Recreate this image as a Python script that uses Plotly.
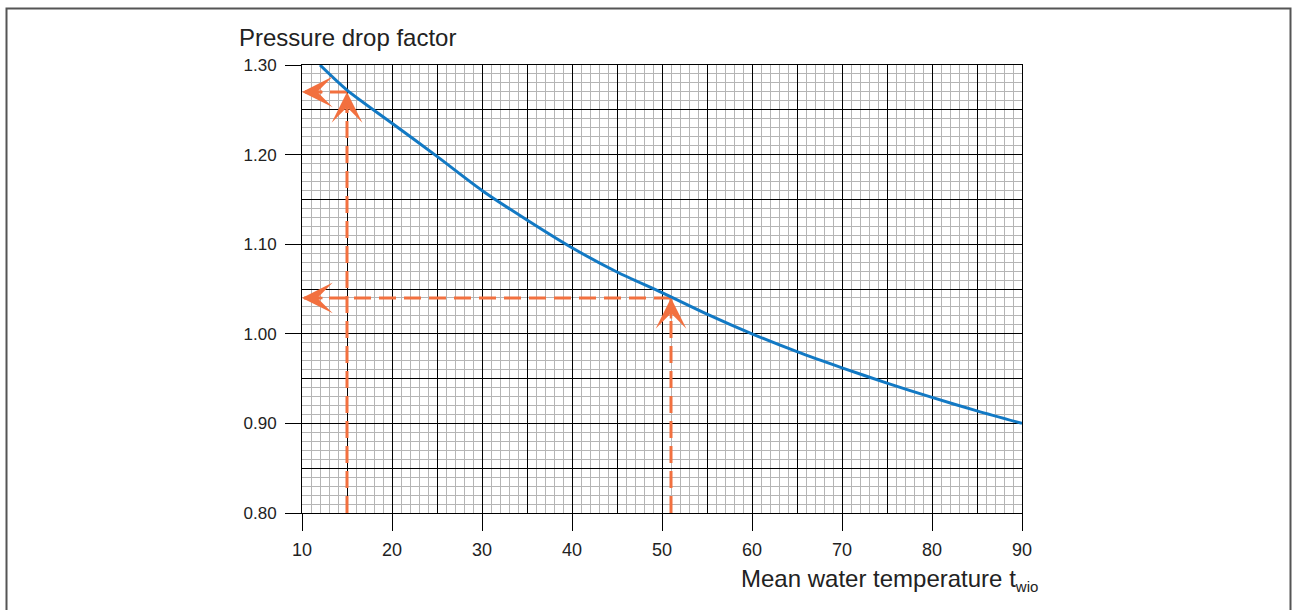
import plotly.graph_objects as go

# ---- data ----
temps = [12, 15, 20, 25, 30, 35, 40, 45, 50, 55, 60, 65, 70, 75, 80, 85, 90]
factors = [1.300, 1.272, 1.235, 1.198, 1.160, 1.127, 1.096, 1.069, 1.046, 1.022,
           1.000, 0.980, 0.962, 0.945, 0.929, 0.914, 0.900]
ref_temps = [15, 51]
ref_factors = [1.27, 1.04]
x_ticks = [10, 20, 30, 40, 50, 60, 70, 80, 90]
y_ticks = [0.80, 0.90, 1.00, 1.10, 1.20, 1.30]
x_range = [10, 90]
y_range = [0.80, 1.30]

FONT = "Liberation Sans, Arial, Helvetica, sans-serif"
ORANGE = "#F2703F"
BLUE = "#1279C4"

W, H = 1292, 610
L, R, T, B = 302, 1292 - 1022, 65, 610 - 513
pw, ph = W - L - R, H - T - B

fig = go.Figure()

# dashed reading lines
for t, f in zip(ref_temps, ref_factors):
    fig.add_trace(go.Scatter(x=[t, t], y=[y_range[0], f], mode="lines",
                             line=dict(color=ORANGE, width=3, dash="17px,8px"),
                             showlegend=False, hoverinfo="skip"))
    fig.add_trace(go.Scatter(x=[t, x_range[0]], y=[f, f], mode="lines",
                             line=dict(color=ORANGE, width=3, dash="17px,8px"),
                             showlegend=False, hoverinfo="skip"))

# curve
fig.add_trace(go.Scatter(x=temps, y=factors, mode="lines",
                         line=dict(color=BLUE, width=3, shape="spline", smoothing=0.8),
                         showlegend=False))

# dummy trace for the overlay axes (tick marks / labels)
fig.add_trace(go.Scatter(x=[None], y=[None], xaxis="x2", yaxis="y2",
                         showlegend=False, hoverinfo="skip"))

# arrowheads (barbed)
for t, f in zip(ref_temps, ref_factors):
    fig.add_annotation(x=t, y=f, ax=0, ay=22, axref="pixel", ayref="pixel",
                       text="", showarrow=True, arrowhead=3, arrowsize=2.05,
                       arrowwidth=2.5, arrowcolor=ORANGE, standoff=0)
    fig.add_annotation(x=x_range[0], y=f, ax=22, ay=0, axref="pixel", ayref="pixel",
                       text="", showarrow=True, arrowhead=3, arrowsize=2.05,
                       arrowwidth=2.5, arrowcolor=ORANGE, standoff=0)

grid_major = "#000000"
grid_minor = "#b5b5b5"

fig.update_layout(
    width=W, height=H,
    margin=dict(l=L, r=R, t=T, b=B, pad=0),
    paper_bgcolor="white", plot_bgcolor="white",
    font=dict(family=FONT, color="#222222", size=18),
    xaxis=dict(range=x_range, tick0=10, dtick=5, showticklabels=False, ticks="",
               showgrid=True, gridcolor=grid_major, gridwidth=1.3,
               minor=dict(tick0=10, dtick=1, showgrid=True, gridcolor=grid_minor, gridwidth=1),
               zeroline=False, showline=True, linecolor=grid_major, linewidth=1.3, mirror=True,
               layer="below traces"),
    yaxis=dict(range=y_range, tick0=0.8, dtick=0.05, showticklabels=False, ticks="",
               showgrid=True, gridcolor=grid_major, gridwidth=1.3,
               minor=dict(tick0=0.8, dtick=0.01, showgrid=True, gridcolor=grid_minor, gridwidth=1),
               zeroline=False, showline=True, linecolor=grid_major, linewidth=1.3, mirror=True,
               layer="below traces"),
    xaxis2=dict(range=x_range, overlaying="x", anchor="y2", side="bottom",
                tickmode="array", tickvals=x_ticks, ticks="outside", ticklen=17,
                tickwidth=1.3, tickcolor="black", showgrid=False, zeroline=False,
                showline=False, ticklabelstandoff=3,
                tickfont=dict(size=18, color="#222222", family=FONT)),
    yaxis2=dict(range=y_range, overlaying="y", anchor="x2", side="left",
                tickmode="array", tickvals=y_ticks, tickformat=".2f", ticks="outside",
                ticklen=16, tickwidth=1.3, tickcolor="black", showgrid=False,
                zeroline=False, showline=False, ticklabelstandoff=5,
                tickfont=dict(size=17, color="#222222", family=FONT)),
)

# titles
fig.add_annotation(xref="paper", yref="paper", x=(237 - L) / pw, y=(H - B - 38) / ph,
                   xanchor="left", yanchor="middle", showarrow=False,
                   text="Pressure drop factor", font=dict(size=24, color="#222222", family=FONT))
fig.add_annotation(xref="paper", yref="paper", x=(1040 - L) / pw, y=(H - B - 580) / ph,
                   xanchor="right", yanchor="middle", showarrow=False,
                   text="Mean water temperature t<sub><span style='font-size:15px'>wio</span></sub>",
                   font=dict(size=24, color="#222222", family=FONT))

# outer frame
fig.add_shape(type="rect", xref="paper", yref="paper",
              x0=(6.5 - L) / pw, x1=(1290.5 - L) / pw,
              y0=(H - B - 620) / ph, y1=(H - B - 8.5) / ph,
              line=dict(color="#555555", width=2), fillcolor="rgba(0,0,0,0)")

fig.write_html("out.html", config={"displayModeBar": False},
               post_script="document.body.style.margin='0px';")
